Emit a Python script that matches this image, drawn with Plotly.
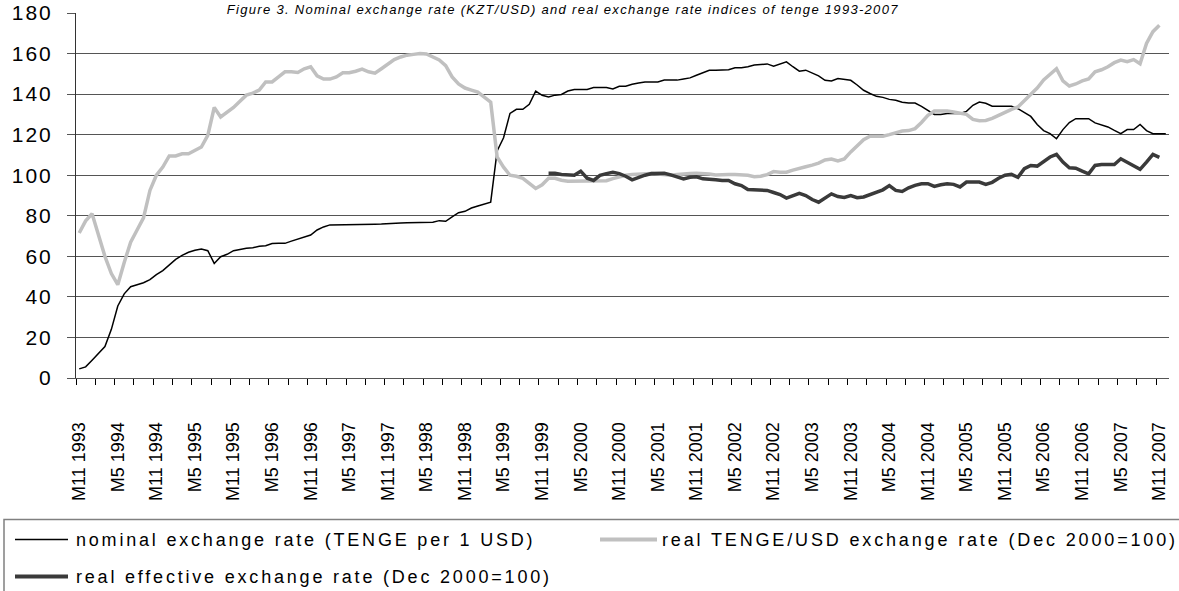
import plotly.graph_objects as go

# ---------------- data ----------------
# monthly categories, M11 1993 ... M12 2007
categories = []
_m, _y = 11, 1993
for _ in range(170):
    categories.append(f"M{_m} {_y}")
    _m += 1
    if _m > 12:
        _m, _y = 1, _y + 1

tick_labels = ["M11 1993", "M5 1994", "M11 1994", "M5 1995", "M11 1995", "M5 1996",
               "M11 1996", "M5 1997", "M11 1997", "M5 1998", "M11 1998", "M5 1999",
               "M11 1999", "M5 2000", "M11 2000", "M5 2001", "M11 2001", "M5 2002",
               "M11 2002", "M5 2003", "M11 2003", "M5 2004", "M11 2004", "M5 2005",
               "M11 2005", "M5 2006", "M11 2006", "M5 2007", "M11 2007"]

nominal = [
    4.5, 5.5, 8.8, 12, 15.5, 24, 35.5, 41.5, 45, 46,
    47, 48.5, 51, 53, 56, 58.5, 60.5, 62, 63, 63.6,
    62.8, 56.5, 59.8, 61, 62.8, 63.5, 64, 64.2, 65, 65.2,
    66.3, 66.4, 66.4, 67.5, 68.6, 69.5, 70.5, 73, 74.5, 75.5,
    75.5, 75.5, 75.6, 75.6, 75.7, 75.7, 75.8, 75.9, 76.2, 76.4,
    76.5, 76.6, 76.7, 76.8, 76.9, 76.8, 77.6, 77.3, 79.5, 81.5,
    82.2, 83.8, 84.8, 85.8, 86.7, 112, 118.5, 130.5, 132.5, 132.5,
    135, 141.5, 139.4, 138.6, 139.5, 139.8, 141.5, 142.3, 142.3, 142.3,
    143.2, 143.2, 143.2, 142.5, 143.9, 143.9, 144.9, 145.5, 146, 146,
    146, 146.9, 146.9, 146.9, 147.5, 148, 149.3, 150.5, 151.8, 151.8,
    151.8, 152, 153, 153, 153.5, 154.3, 154.6, 154.9, 153.8, 154.8,
    155.9, 153.5, 151.3, 151.8, 150.5, 149, 146.8, 146.5, 147.7, 147.4,
    146.8, 144.5, 141.9, 140.3, 138.9, 138.4, 137.4, 137, 136, 135.6,
    135.6, 134, 131.8, 130, 130, 130.4, 130.4, 130.4, 131.5, 134.5,
    136.1, 135.5, 134, 134, 134, 134, 132.8, 131, 129, 125,
    122, 120.5, 118, 122.5, 126, 127.9, 127.9, 127.9, 125.8, 124.7,
    123.8, 122.1, 120.5, 122.5, 122.5, 125, 122, 120.5, 120.5, 120.5,
]

real_usd = [
    71.5, 77.5, 81, 70.5, 60, 51.5, 46, 57, 67, 73,
    79, 92.5, 100, 104, 109.5, 109.5, 110.6, 110.6, 112.3, 113.9,
    119.7, 133.4, 128.7, 131, 133.4, 136.5, 139.5, 140.5, 142, 146,
    146, 148.5, 151, 151, 150.7, 152.5, 153.5, 149, 147.4, 147.4,
    148.5, 150.5, 150.5, 151.3, 152.3, 151, 150.3, 152.5, 155, 157,
    158.3, 159.2, 159.6, 160, 159.8, 158.5, 156.8, 154, 148.5, 145,
    143, 142, 141, 138.5, 136, 109, 104, 100, 99.5, 98.5,
    96, 93.5, 95.3, 98.5, 98.5, 97.5, 97, 97, 97, 97,
    97, 97, 97.3, 98.3, 99.3, 100, 100.4, 100.6, 100.8, 100.9,
    100.6, 100.2, 100, 100.4, 100.8, 100.9, 101, 101, 100.6, 100.1,
    100, 100.3, 100.3, 100.3, 100, 99.3, 99.5, 100.3, 101.8, 101.5,
    101.5, 102.5, 103.5, 104.2, 105, 106, 107.5, 108, 107, 108,
    111.5, 114.5, 117.5, 119.2, 119.2, 119.2, 120, 121, 121.8, 122,
    123, 126, 129.5, 131.7, 131.7, 131.7, 131.2, 130.7, 130, 127.5,
    126.9, 127, 128, 129.5, 131.2, 132.5, 133.7, 137, 140, 143,
    147, 150, 152.5, 146.5, 144, 145, 146.5, 147.5, 151, 152,
    153.5, 155.5, 156.8, 156, 157, 155, 165, 170.8, 174,
]

reer = [None] * 73 + [
    101, 101, 100.4, 100, 100, 102, 98.5, 97.4, 99.9, 100.8,
    101.5, 100.8, 99.5, 97.7, 99, 100, 100.8, 101, 101, 100.2,
    99, 98.2, 99, 99.2, 98.2, 98.2, 97.8, 97.4, 97.4, 95.8,
    94.9, 93, 92.9, 92.8, 92.5, 91.5, 90.5, 88.7, 90, 91.1,
    90, 88, 86.7, 89, 90.8, 89.5, 89, 90, 88.9, 89.3,
    90.5, 91.8, 92.8, 94.9, 92.5, 92, 93.8, 95, 95.8, 95.8,
    94.5, 95.3, 95.8, 95.5, 94.2, 96.6, 96.6, 96.6, 95.5, 96.5,
    98.5, 100, 100.4, 99, 103.2, 104.8, 104.5, 107, 109, 110.3,
    106.5, 103.7, 103.5, 102, 100.7, 104.8, 105.3, 105.3, 105.3, 108.1,
    106.5, 104.5, 102.9, 106.5, 110.3, 108.8,
]

names = ["nominal exchange rate (TENGE per 1 USD)",
         "real TENGE/USD exchange rate (Dec 2000=100)",
         "real effective exchange rate (Dec 2000=100)"]
title_text = "Figure 3. Nominal exchange rate (KZT/USD) and real exchange rate indices of tenge 1993-2007"

# ---------------- figure ----------------
FONT = "Liberation Sans, Arial, sans-serif"

fig = go.Figure()
fig.add_trace(go.Scatter(x=list(range(len(nominal))), y=nominal, mode="lines", name=names[0],
                         line=dict(color="#000000", width=1.5), text=categories[:len(nominal)]))
fig.add_trace(go.Scatter(x=list(range(len(real_usd))), y=real_usd, mode="lines", name=names[1],
                         line=dict(color="#c0c0c0", width=3.5), text=categories[:len(real_usd)]))
fig.add_trace(go.Scatter(x=list(range(len(reer))), y=reer, mode="lines", name=names[2],
                         line=dict(color="#3a3a3a", width=3.5), text=categories[:len(reer)]))

W, H = 1179, 591
L, R, T, B = 76, 10, 13, 213
pw, ph = W - L - R, H - T - B


def px(xp):
    return (xp - L) / pw


def py(yp):
    return (H - B - yp) / ph


fig.update_layout(
    template="none",
    width=W, height=H,
    margin=dict(l=L, r=R, t=T, b=B, pad=0, autoexpand=False),
    paper_bgcolor="white", plot_bgcolor="white",
    showlegend=False,
    font=dict(family=FONT, color="black"),
)

fig.update_xaxes(
    automargin=False,
    range=[-0.5, len(categories) - 0.5],
    tickmode="array",
    tickvals=[categories.index(t) for t in tick_labels],
    ticktext=tick_labels,
    tickangle=-90,
    ticks="",
    tickfont=dict(family=FONT, size=18, color="black"),
    ticklabelstandoff=36,
    showgrid=False, zeroline=False,
    showline=True, linecolor="#555555", linewidth=1,
    minor=dict(ticks="outside", ticklen=6, tickcolor="#000000", tickwidth=1,
               tickmode="array", tickvals=[k - 0.5 for k in range(0, len(categories) - 1, 3)],
               showgrid=False),
)
fig.update_yaxes(
    automargin=False,
    range=[0, 180], tickmode="linear", tick0=0, dtick=20,
    ticks="outside", ticklen=8, tickcolor="#555555", tickwidth=1,
    tickfont=dict(family=FONT, size=21, color="black"),
    ticklabelstandoff=10,
    showgrid=True, gridcolor="#555555", gridwidth=1,
    zeroline=False,
    showline=True, linecolor="#333333", linewidth=1,
)

# title at the very top
fig.add_annotation(
    text="<i>" + title_text + "</i>", xref="paper", yref="paper",
    x=px(563), y=py(0), xanchor="center", yanchor="top",
    showarrow=False, font=dict(family=FONT, size=13, color="black"),
)

# custom legend box
fig.add_shape(type="rect", xref="paper", yref="paper",
              x0=px(4), x1=px(1190), y0=py(519.5), y1=py(605),
              line=dict(color="#808080", width=1.5), fillcolor="rgba(0,0,0,0)", layer="above")
legend_items = [
    (names[0], "#000000", 1.5, 15, 68, 74, 539.5),
    (names[1], "#c0c0c0", 4, 600, 657, 660, 539.5),
    (names[2], "#3a3a3a", 4, 15, 68, 74, 576.5),
]
for name, col, lw, lx0, lx1, tx, yy in legend_items:
    fig.add_shape(type="line", xref="paper", yref="paper",
                  x0=px(lx0), x1=px(lx1), y0=py(yy), y1=py(yy),
                  line=dict(color=col, width=lw))
    fig.add_annotation(text=name, xref="paper", yref="paper", x=px(tx), y=py(yy),
                       xanchor="left", yanchor="middle", align="left", showarrow=False,
                       font=dict(family=FONT, size=18, color="black"))

post = """
document.body.style.margin = '0';
document.body.style.padding = '0';
var gd = document.getElementById('{plot_id}');
gd.querySelectorAll('.ytick text').forEach(function(t){ t.style.letterSpacing = '2px'; });
gd.querySelectorAll('g.annotation').forEach(function(g){
  var i = g.getAttribute('data-index');
  var t = g.querySelector('text');
  if (!t) return;
  t.style.letterSpacing = (i === '0') ? '1.3px' : ((i === '2') ? '2.85px' : '2.8px');
});
"""

fig.write_html("out.html", post_script=post, config={"displayModeBar": False})
